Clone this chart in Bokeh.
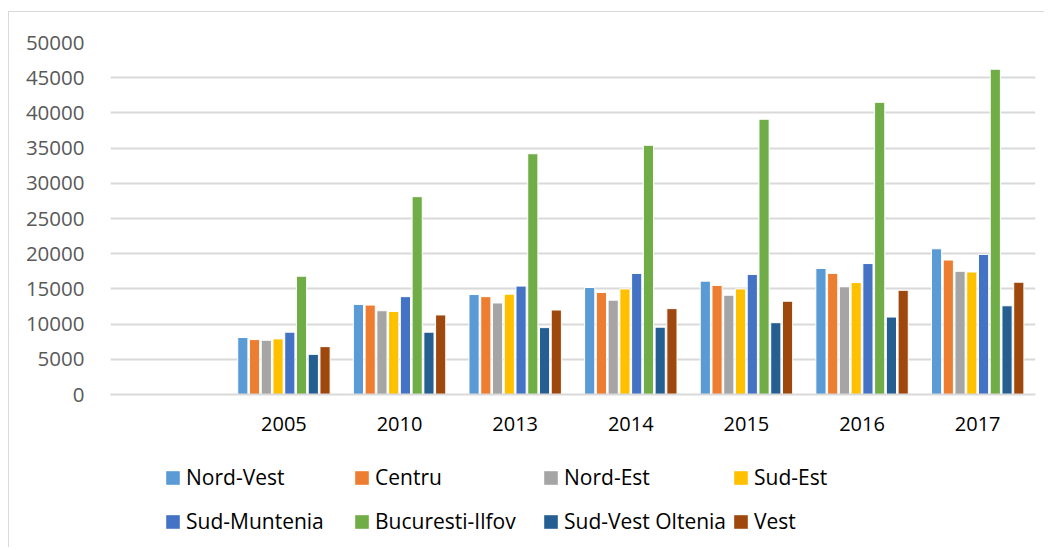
from bokeh.plotting import figure
from bokeh.layouts import column
from bokeh.models import ColumnDataSource, FactorRange, Legend, LegendItem, FixedTicker, NumeralTickFormatter
from bokeh.transform import dodge
from bokeh.embed import file_html
from bokeh.resources import INLINE

categories = [" ", "2005", "2010", "2013", "2014", "2015", "2016", "2017"]
years = ["2005", "2010", "2013", "2014", "2015", "2016", "2017"]

regions = ["Nord-Vest", "Centru", "Nord-Est", "Sud-Est",
           "Sud-Muntenia", "Bucuresti-Ilfov", "Sud-Vest Oltenia", "Vest"]

nord_vest = [8100, 12800, 14200, 15200, 16100, 17900, 20700]
centru = [7800, 12700, 13900, 14500, 15500, 17200, 19100]
nord_est = [7700, 11900, 13000, 13400, 14100, 15300, 17500]
sud_est = [7900, 11800, 14250, 15000, 15000, 15900, 17400]
sud_muntenia = [8850, 13900, 15400, 17200, 17050, 18600, 19900]
bucuresti_ilfov = [16800, 28100, 34200, 35400, 39100, 41500, 46200]
sud_vest_oltenia = [5700, 8850, 9500, 9560, 10200, 11000, 12600]
vest = [6800, 11300, 12000, 12200, 13250, 14800, 15950]

colors = ["#5B9BD5", "#ED7D31", "#A5A5A5", "#FFC000",
          "#4472C4", "#70AD47", "#255E91", "#9E480E"]

series = [nord_vest, centru, nord_est, sud_est, sud_muntenia,
          bucuresti_ilfov, sud_vest_oltenia, vest]
keys = ["s%d" % i for i in range(len(series))]

data = {"year": years}
for k, s in zip(keys, series):
    data[k] = s
src = ColumnDataSource(data)

FONT = "Open Sans"

p = figure(x_range=FactorRange(*categories), y_range=(0, 50000),
           width=1036, height=430, output_backend="svg", toolbar_location=None,
           min_border_left=101, min_border_right=10, min_border_top=30,
           min_border_bottom=48)
p.outline_line_color = None

slot = 0.1016
for i, (k, c) in enumerate(zip(keys, colors)):
    p.vbar(x=dodge("year", (i - 3.5) * slot, range=p.x_range), top=k,
           width=0.088, source=src, fill_color=c, line_color="white",
           line_width=1)

p.yaxis.ticker = FixedTicker(ticks=list(range(0, 50001, 5000)))
p.yaxis.formatter = NumeralTickFormatter(format="0")
p.yaxis.axis_line_color = None
p.yaxis.major_tick_line_color = None
p.yaxis.minor_tick_line_color = None
p.yaxis.major_label_text_font = FONT
p.yaxis.major_label_text_font_size = "20.5px"
p.yaxis.major_label_text_color = "#595959"
p.yaxis.major_label_standoff = 20

p.xaxis.axis_line_color = "#d9d9d9"
p.xaxis.axis_line_width = 2
p.xaxis.major_tick_line_color = None
p.xaxis.minor_tick_line_color = None
p.xaxis.major_label_text_font = FONT
p.xaxis.major_label_text_font_size = "20px"
p.xaxis.major_label_text_color = "#000000"
p.xaxis.major_label_standoff = 9

p.xgrid.grid_line_color = None
p.ygrid.grid_line_color = "#d9d9d9"
p.ygrid.grid_line_width = 2

# legend panel (separate figure so the legend is not clipped)
p2 = figure(x_range=FactorRange(*categories), y_range=(0, 50000),
            width=1036, height=106, output_backend="svg", toolbar_location=None,
            min_border_left=0, min_border_right=0, min_border_top=0,
            min_border_bottom=0, x_axis_location=None, y_axis_location=None)
p2.outline_line_color = None
p2.xgrid.grid_line_color = None
p2.ygrid.grid_line_color = None

items = []
for name, k, c in zip(regions, keys, colors):
    r = p2.vbar(x="year", top=k, source=src, width=0.088, fill_color=c,
                line_color=None, visible=False)
    items.append(LegendItem(label=name, renderers=[r]))

legend = Legend(items=items, location=(54, 8), orientation="horizontal", ncols=4,
                glyph_width=17, glyph_height=17, label_standoff=5,
                label_width=161, label_height=38, spacing=6, padding=0, margin=0,
                border_line_color=None, background_fill_alpha=0,
                inactive_fill_alpha=0,
                label_text_font=FONT, label_text_font_size="21px",
                label_text_color="#000000")
p2.add_layout(legend)

layout = column(p, p2, spacing=0)
layout.styles = {"margin-left": "9px", "margin-top": "12px",
                 "box-shadow": "-1px -1px 0 0 #d9d9d9"}

open("out.html", "w").write(file_html(layout, INLINE))
